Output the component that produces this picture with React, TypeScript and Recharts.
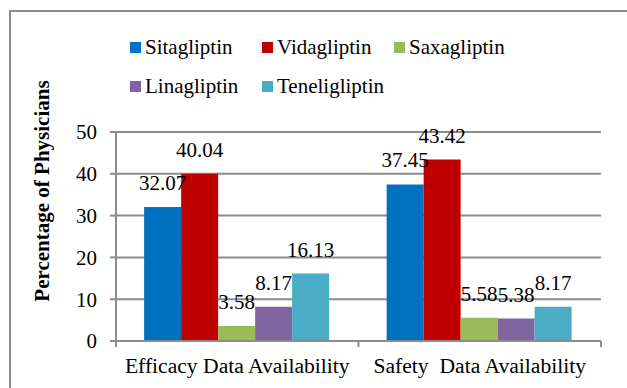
import React from "react";
import { BarChart, Bar, XAxis, YAxis, CartesianGrid, LabelList } from "recharts";

const categories = ["Efficacy Data Availability", "Safety  Data Availability"];
const seriesNames = ["Sitagliptin", "Vidagliptin", "Saxagliptin", "Linagliptin", "Teneligliptin"];
const seriesColors = ["#0070C0", "#C00000", "#9BBB59", "#8064A2", "#4BACC6"];
const sitagliptin = [32.07, 37.45];
const vidagliptin = [40.04, 43.42];
const saxagliptin = [3.58, 5.58];
const linagliptin = [8.17, 5.38];
const teneligliptin = [16.13, 8.17];
const yTicks = [0, 10, 20, 30, 40, 50];
const yLabel = "Percentage of Physicians";

const seriesValues = [sitagliptin, vidagliptin, saxagliptin, linagliptin, teneligliptin];
const data = categories.map((c, i) => {
  const row: any = { category: c };
  seriesNames.forEach((s, j) => {
    row[s] = seriesValues[j][i];
  });
  return row;
});

const W = 627;
const H = 388;
const PLOT_LEFT = 116;
const PLOT_RIGHT = 601;
const PLOT_TOP = 132;
const PLOT_BOTTOM = 341;
const Y_AXIS_W = 60;
const X_AXIS_H = 30;
const FONT = "'Liberation Serif', 'Times New Roman', serif";
const GRAY = "#8c8c8c";

const XTick = (props: any) => {
  const { payload } = props;
  const band = (PLOT_RIGHT - PLOT_LEFT) / categories.length;
  const cx = payload.coordinate;
  const idx = payload.index;
  return (
    <g>
      <line x1={cx - band / 2} x2={cx - band / 2} y1={PLOT_BOTTOM} y2={PLOT_BOTTOM + 6} stroke={GRAY} strokeWidth={2} />
      {idx === categories.length - 1 && (
        <line x1={cx + band / 2} x2={cx + band / 2} y1={PLOT_BOTTOM} y2={PLOT_BOTTOM + 6} stroke={GRAY} strokeWidth={2} />
      )}
      <text
        x={cx}
        y={PLOT_BOTTOM + 32}
        textAnchor="middle"
        fontFamily={FONT}
        fontSize={21.6}
        fill="#000"
        style={{ whiteSpace: "pre" }}
      >
        {payload.value}
      </text>
    </g>
  );
};

export default function App() {
  return (
    <div style={{ position: "absolute", left: 0, top: 0, width: W, height: H, overflow: "hidden", background: "#fff" }}>
      <div
        style={{
          position: "absolute",
          left: 9,
          top: 10,
          width: 700,
          height: 500,
          border: `2px solid ${GRAY}`,
          boxSizing: "border-box",
        }}
      />
      <BarChart
        width={W}
        height={H}
        data={data}
        margin={{ top: PLOT_TOP, bottom: H - PLOT_BOTTOM - X_AXIS_H, left: PLOT_LEFT - Y_AXIS_W, right: W - PLOT_RIGHT }}
        barCategoryGap="11.6%"
        barGap={0}
        style={{ position: "absolute", left: 0, top: 0 }}
      >
        <CartesianGrid vertical={false} stroke={GRAY} strokeWidth={2} />
        <XAxis
          dataKey="category"
          height={X_AXIS_H}
          axisLine={{ stroke: GRAY, strokeWidth: 2 }}
          tickLine={false}
          tick={<XTick />}
          interval={0}
        />
        <YAxis
          width={Y_AXIS_W}
          domain={[0, 50]}
          ticks={yTicks}
          axisLine={{ stroke: GRAY, strokeWidth: 2 }}
          tickLine={{ stroke: GRAY, strokeWidth: 2 }}
          tickSize={6}
          tickMargin={13}
          tick={{ fontFamily: FONT, fontSize: 21, fill: "#000" }}
        />
        {seriesNames.map((s, j) => (
          <Bar key={s} dataKey={s} fill={seriesColors[j]} isAnimationActive={false}>
            <LabelList dataKey={s} position="top" offset={17} fontFamily={FONT} fontSize={21} fill="#000" />
          </Bar>
        ))}
      </BarChart>
      {seriesNames.map((s, j) => {
        const col = j % 3;
        const row = Math.floor(j / 3);
        return (
          <div
            key={s}
            style={{
              position: "absolute",
              left: 130 + col * 132,
              top: (row === 0 ? 47.3 : 86.2) - 13,
              height: 26,
              display: "flex",
              alignItems: "center",
              fontFamily: FONT,
              fontSize: 21,
              color: "#000",
              whiteSpace: "nowrap",
            }}
          >
            <div style={{ width: 11, height: 11, background: seriesColors[j], marginRight: 4 }} />
            <span style={{ lineHeight: "26px" }}>{s}</span>
          </div>
        );
      })}
      <div
        style={{
          position: "absolute",
          left: 42,
          top: 191,
          transform: "translate(-50%, -50%) rotate(-90deg)",
          fontFamily: FONT,
          fontSize: 21,
          fontWeight: "bold",
          whiteSpace: "nowrap",
          color: "#000",
        }}
      >
        {yLabel}
      </div>
    </div>
  );
}
